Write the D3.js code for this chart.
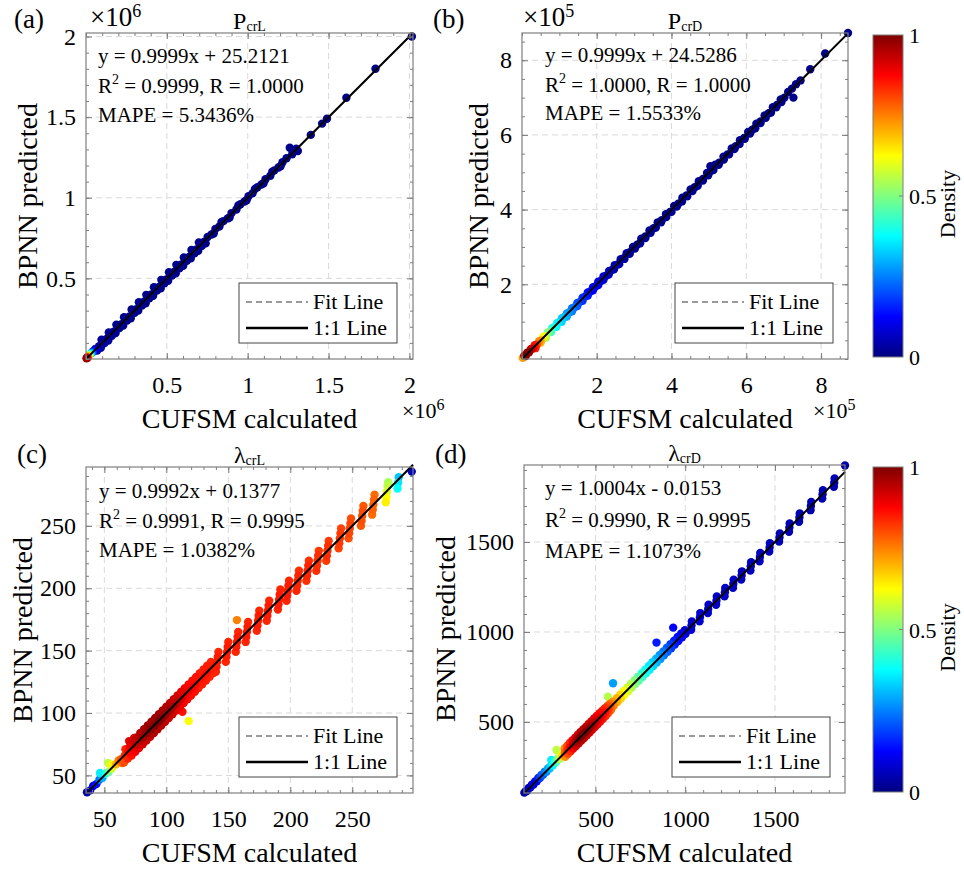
<!DOCTYPE html>
<html>
<head>
<meta charset="utf-8">
<script src="https://cdn.jsdelivr.net/npm/d3@7"></script>
<style>
  body { margin: 0; background: #fff; }
  svg, svg text { font-family: "Liberation Serif", "DejaVu Serif", "Noto Serif", serif; }
</style>
</head>
<body>
<div id="chart"></div>
<script>
// Dados: [CUFSM calculado, BPNN previsto, densidade]
// (a) P_crL, em x10^6
const pcrL = [
  [0.003,0.004,0.97],[0.006,0.009,0.9],[0.010,0.007,0.85],[0.013,0.016,0.72],[0.018,0.020,0.6],
  [0.022,0.026,0.48],[0.027,0.029,0.38],[0.032,0.036,0.28],[0.038,0.040,0.2],[0.044,0.047,0.14],
  [0.050,0.052,0.1],[0.058,0.062,0.06],[0.081,0.079,0.04],[0.104,0.108,0.03],[0.127,0.124,0.02],
  [0.149,0.153,0.02],[0.172,0.170,0.02],[0.196,0.201,0.01],[0.219,0.216,0.01],[0.243,0.247,0.01],
  [0.266,0.262,0.01],[0.290,0.295,0.01],[0.312,0.309,0.01],[0.335,0.340,0.01],[0.358,0.355,0.01],
  [0.381,0.386,0.01],[0.404,0.401,0.01],[0.428,0.433,0.01],[0.451,0.447,0.01],[0.474,0.479,0.01],
  [0.497,0.494,0.01],[0.521,0.526,0.01],[0.544,0.540,0.01],[0.567,0.572,0.01],[0.590,0.587,0.01],
  [0.613,0.618,0.01],[0.637,0.633,0.01],[0.660,0.664,0.01],[0.683,0.680,0.01],[0.706,0.711,0.01],
  [0.729,0.726,0.01],[0.752,0.757,0.01],[0.776,0.772,0.01],[0.800,0.806,0.01],[0.825,0.822,0.01],
  [0.850,0.855,0.01],[0.876,0.872,0.01],[0.900,0.905,0.01],[0.930,0.927,0.01],[0.955,0.960,0.01],
  [0.980,0.977,0.01],[1.005,1.010,0.01],[1.030,1.028,0.01],[1.060,1.065,0.01],[1.085,1.082,0.01],
  [1.110,1.115,0.01],[1.140,1.137,0.01],[1.165,1.170,0.01],[1.190,1.188,0.01],[1.215,1.220,0.01],
  [1.240,1.245,0.01],[1.260,1.310,0.01],[1.275,1.270,0.01],[1.300,1.305,0.01],[1.310,1.290,0.01],
  [1.390,1.390,0.01],[1.460,1.460,0.01],[1.490,1.490,0.01],[1.610,1.620,0.01],[1.790,1.800,0.01],
  [2.015,2.000,0.01],
  // segunda e terceira fileiras da faixa densa
  [0.069,0.053,0.05],[0.092,0.070,0.04],[0.115,0.099,0.03],[0.138,0.115,0.02],[0.160,0.144,0.02],
  [0.183,0.161,0.02],[0.207,0.192,0.01],[0.230,0.207,0.01],[0.254,0.238,0.01],[0.277,0.253,0.01],
  [0.301,0.286,0.01],[0.323,0.300,0.01],[0.346,0.331,0.01],[0.369,0.346,0.01],[0.392,0.377,0.01],
  [0.415,0.392,0.01],[0.439,0.424,0.01],[0.462,0.438,0.01],[0.485,0.470,0.01],[0.508,0.485,0.01],
  [0.532,0.517,0.01],[0.555,0.531,0.01],[0.578,0.563,0.01],[0.601,0.578,0.01],[0.624,0.609,0.01],
  [0.648,0.624,0.01],[0.671,0.655,0.01],[0.694,0.671,0.01],[0.717,0.702,0.01],[0.740,0.717,0.01],
  [0.096,0.120,0.03],[0.141,0.165,0.02],[0.188,0.213,0.01],[0.235,0.259,0.01],[0.282,0.307,0.01],
  [0.327,0.352,0.01],[0.373,0.398,0.01],[0.420,0.445,0.01],[0.466,0.491,0.01],[0.513,0.538,0.01],
  [0.559,0.584,0.01],[0.605,0.630,0.01],[0.652,0.676,0.01],[0.698,0.723,0.01],[0.790,0.778,0.01],
  [0.838,0.850,0.01],[0.888,0.878,0.01],[0.942,0.952,0.01],[0.993,0.985,0.01],[1.045,1.055,0.01],
  [1.098,1.090,0.01],[1.152,1.162,0.01],[1.203,1.196,0.01]
];
// (b) P_crD, em x10^5
const pcrD = [
  [0.02,0.03,0.72],[0.06,0.09,0.96],[0.10,0.08,1.0],[0.14,0.17,0.99],[0.19,0.18,0.97],[0.24,0.27,0.93],
  [0.29,0.28,0.9],[0.34,0.37,0.86],[0.40,0.39,0.8],[0.46,0.48,0.74],[0.52,0.51,0.68],[0.57,0.59,0.62],
  [0.63,0.62,0.56],[0.69,0.71,0.5],[0.75,0.74,0.45],[0.81,0.83,0.41],[0.87,0.86,0.38],[0.94,0.96,0.36],
  [1.00,0.99,0.34],[1.07,1.09,0.32],[1.13,1.12,0.3],[1.20,1.22,0.28],[1.27,1.25,0.26],[1.34,1.36,0.24],
  [1.41,1.39,0.22],[1.48,1.50,0.2],[1.55,1.53,0.18],[1.62,1.64,0.16],[1.69,1.67,0.15],[1.76,1.78,0.13],
  [1.83,1.81,0.12],[1.90,1.92,0.11],[1.97,1.95,0.1],[2.04,2.07,0.09],[2.11,2.09,0.08],[2.18,2.21,0.07],
  [2.25,2.23,0.06],[2.33,2.36,0.055],[2.40,2.38,0.05],[2.48,2.51,0.045],[2.56,2.53,0.04],[2.64,2.67,0.035],
  [2.72,2.70,0.03],[2.80,2.83,0.025],[2.88,2.86,0.025],[2.97,3.00,0.02],[3.08,3.06,0.02],[3.19,3.22,0.02],
  [3.30,3.28,0.02],[3.41,3.44,0.02],[3.52,3.50,0.02],[3.63,3.66,0.015],[3.74,3.72,0.015],[3.85,3.88,0.015],
  [3.96,3.94,0.015],[4.07,4.10,0.015],[4.18,4.16,0.015],[4.29,4.32,0.015],[4.40,4.38,0.015],[4.51,4.54,0.015],
  [4.62,4.60,0.012],[4.73,4.76,0.012],[4.84,4.82,0.012],[4.95,4.98,0.012],[5.04,5.16,0.01],[5.06,5.04,0.012],
  [5.17,5.20,0.012],[5.28,5.26,0.01],[5.39,5.42,0.01],[5.50,5.48,0.01],[5.61,5.64,0.01],[5.72,5.70,0.01],
  [5.83,5.86,0.01],[5.94,5.92,0.01],[6.05,6.08,0.01],[6.16,6.14,0.01],[6.27,6.30,0.01],[6.38,6.36,0.01],
  [6.49,6.52,0.01],[6.60,6.58,0.01],[6.71,6.74,0.01],[6.82,6.80,0.01],[6.92,6.95,0.01],[7.02,7.00,0.01],
  [7.12,7.15,0.01],[7.22,7.24,0.01],[7.26,7.00,0.01],[7.33,7.36,0.01],[7.45,7.46,0.01],[7.71,7.76,0.01],
  [8.11,8.18,0.01],[8.72,8.73,0.01],
  // segunda fileira
  [0.36,0.29,0.85],[0.50,0.44,0.7],[0.64,0.57,0.54],[0.78,0.72,0.43],[0.92,0.86,0.37],[1.06,1.00,0.33],
  [1.20,1.14,0.29],[1.34,1.28,0.25],[1.48,1.42,0.21],[1.62,1.56,0.17],[1.76,1.70,0.14],[1.90,1.84,0.11],
  [2.04,1.98,0.09],[2.18,2.12,0.07],[2.32,2.26,0.055],[2.46,2.40,0.045],[2.60,2.54,0.04],[2.74,2.68,0.03],
  [2.88,2.82,0.025],[3.02,2.96,0.02],[3.16,3.10,0.02],[3.30,3.24,0.02],[3.44,3.38,0.02],[3.58,3.52,0.015],
  [3.72,3.66,0.015],[3.86,3.80,0.015],[4.00,3.94,0.015],[4.14,4.08,0.015],[4.28,4.22,0.015],[4.42,4.36,0.015],
  [4.56,4.50,0.012],[4.70,4.64,0.012],[4.84,4.78,0.012],[4.98,4.92,0.012],[5.12,5.06,0.01],[5.26,5.20,0.01],
  [5.40,5.34,0.01],[5.54,5.48,0.01],[5.68,5.62,0.01],[5.82,5.76,0.01],[5.96,5.90,0.01],[6.10,6.04,0.01],
  [6.24,6.18,0.01],[6.38,6.32,0.01],[6.52,6.46,0.01],[6.66,6.60,0.01],[6.80,6.74,0.01],[6.94,6.88,0.01]
];
// (c) lambda_crL
const lamL = [
  [36.0,36.5,0.05],[38.5,38.0,0.07],[41.0,41.5,0.1],[43.5,43.0,0.14],[46.0,46.5,0.24],[46.5,52.0,0.36],
  [48.5,48.0,0.3],[51.0,51.5,0.4],[53.0,60.0,0.56],[53.5,53.0,0.48],[55.0,58.5,0.6],[56.0,55.5,0.58],
  [57.5,58.5,0.64],[59.5,59.0,0.7],[61.5,62.0,0.75],[63.5,63.0,0.79],[64.5,60.0,0.78],
  [66.0,60.5,0.8],[66.5,66.0,0.83],[67.0,71.0,0.84],
  [69.0,63.5,0.84],[69.5,69.0,0.87],[70.0,77.5,0.9],[70.5,73.0,0.88],
  [72.0,66.0,0.86],[72.5,72.0,0.9],[73.0,78.0,0.92],[74.0,80.0,0.9],
  [75.0,69.0,0.88],[75.5,75.0,0.93],[76.0,80.5,0.94],
  [78.0,72.0,0.9],[78.5,78.0,0.95],[79.0,84.0,0.95],
  [81.0,75.0,0.92],[81.5,81.0,0.97],[82.0,87.0,0.96],
  [84.0,78.0,0.93],[84.5,84.0,0.98],[85.0,90.0,0.97],
  [87.0,81.0,0.94],[87.5,87.0,0.99],[88.0,93.0,0.97],
  [90.0,84.0,0.95],[90.5,90.0,1.0],[91.0,96.0,0.97],
  [93.0,87.0,0.95],[93.5,93.0,1.0],[94.0,99.0,0.97],
  [96.0,90.0,0.95],[96.5,96.0,0.99],[97.0,102.0,0.96],
  [99.0,93.0,0.94],[99.5,99.0,0.98],[100.0,105.0,0.95],
  [102.0,96.0,0.93],[102.5,102.0,0.97],[103.0,108.0,0.94],
  [105.0,99.0,0.92],[105.5,105.0,0.96],[106.0,111.0,0.93],
  [108.0,102.0,0.9],[108.5,108.0,0.94],[109.0,114.0,0.91],
  [111.0,105.0,0.89],[111.5,111.0,0.92],[112.0,117.0,0.9],[113.0,101.0,0.86],
  [114.0,108.0,0.88],[114.5,114.0,0.9],[115.0,120.0,0.88],
  [117.0,111.0,0.87],[117.5,117.0,0.89],[118.0,123.0,0.87],[118.0,93.5,0.62],
  [120.0,114.0,0.86],[120.5,120.0,0.88],[121.0,126.0,0.86],
  [123.0,117.0,0.86],[123.5,123.0,0.87],[124.0,129.0,0.86],
  [126.0,120.0,0.85],[126.5,126.0,0.86],[127.0,132.0,0.85],
  [129.0,123.0,0.85],[129.5,129.0,0.86],[130.0,135.0,0.85],
  [132.0,126.0,0.85],[132.5,132.0,0.86],[133.0,138.0,0.85],
  [135.0,129.0,0.84],[135.5,135.0,0.85],[136.0,141.0,0.84],
  [138.0,132.0,0.84],[138.5,138.0,0.85],
  // faixas verticais
  [140.0,133.0,0.84],[140.5,137.0,0.85],[141.0,141.0,0.85],[141.5,145.0,0.85],[142.0,149.0,0.84],
  [148.0,141.0,0.84],[148.5,145.0,0.85],[149.0,149.0,0.85],[149.5,153.0,0.85],[150.0,157.0,0.84],
  [156.0,149.0,0.84],[156.5,153.0,0.85],[157.0,157.0,0.85],[157.5,161.0,0.85],[158.0,165.0,0.84],
  [157.0,174.5,0.75],
  [164.0,157.0,0.84],[164.5,161.0,0.85],[165.0,165.0,0.85],[165.5,169.0,0.85],[166.0,173.0,0.84],
  [173.0,166.0,0.84],[173.5,170.0,0.85],[174.0,174.0,0.85],[174.5,178.0,0.85],[175.0,182.0,0.84],
  [181.0,174.0,0.84],[181.5,178.0,0.85],[182.0,182.0,0.85],[182.5,186.0,0.85],[183.0,190.0,0.84],
  [190.0,183.0,0.84],[190.5,187.0,0.85],[191.0,191.0,0.85],[191.5,195.0,0.85],[192.0,199.0,0.84],
  [197.0,190.0,0.84],[197.5,194.0,0.85],[198.0,198.0,0.85],[198.5,202.0,0.85],[199.0,206.0,0.84],
  [205.0,198.0,0.84],[205.5,202.0,0.84],[206.0,206.0,0.84],[206.5,210.0,0.84],[207.0,214.0,0.83],
  [213.0,206.0,0.83],[213.5,210.0,0.84],[214.0,214.0,0.84],[214.5,218.0,0.84],[215.0,222.0,0.83],
  [221.0,214.0,0.83],[221.5,218.0,0.83],[222.0,222.0,0.83],[222.5,226.0,0.83],[223.0,230.0,0.82],
  [229.0,222.0,0.82],[229.5,226.0,0.83],[230.0,230.0,0.83],[230.5,234.0,0.83],[231.0,238.0,0.82],
  [239.0,232.0,0.81],[239.5,236.0,0.82],[240.0,240.0,0.82],[240.5,244.0,0.82],[241.0,248.0,0.81],
  [247.0,240.0,0.8],[247.5,244.0,0.81],[248.0,248.0,0.81],[248.5,252.0,0.81],[249.0,256.0,0.8],
  [257.0,250.0,0.79],[257.5,254.0,0.8],[258.0,258.0,0.8],[258.5,262.0,0.8],[259.0,266.0,0.79],
  [266.0,259.0,0.77],[266.5,263.0,0.78],[267.0,267.0,0.78],[267.5,271.0,0.78],[268.0,275.0,0.77],
  [277.0,269.0,0.64],[277.5,273.0,0.62],[278.0,277.5,0.59],[278.5,282.0,0.56],[279.0,285.0,0.54],
  [286.5,280.0,0.38],[287.0,284.5,0.35],[287.5,289.0,0.32],[298.0,293.5,0.06]
];
// (d) lambda_crD
const lamD = [
  [104,107,0.03],[112,115,0.04],[120,118,0.05],[128,133,0.06],[137,135,0.07],[146,151,0.08],[155,152,0.09],
  [164,169,0.1],[173,170,0.12],[182,188,0.15],[191,188,0.18],[200,206,0.2],[209,206,0.22],[218,224,0.24],
  [227,223,0.26],[236,242,0.28],[245,241,0.31],[254,289,0.36],[254,260,0.34],[263,259,0.37],[272,278,0.4],
  [281,277,0.44],[290,296,0.48],[283,344,0.56],[299,294,0.55],[308,315,0.6],[317,311,0.66],
  [328,352,0.74],[330,330,0.78],[332,306,0.74],[343,368,0.8],[345,345,0.84],[347,322,0.8],
  [358,384,0.84],[360,360,0.88],[362,337,0.84],[373,399,0.88],[375,375,0.93],[377,352,0.88],
  [388,414,0.91],[390,390,0.96],[392,366,0.91],[403,430,0.93],[405,405,0.99],[407,381,0.94],
  [418,445,0.94],[420,420,1.0],[422,396,0.94],[433,460,0.94],[435,435,1.0],[437,411,0.94],
  [448,474,0.93],[450,450,0.99],[452,426,0.93],[463,490,0.92],[465,465,0.98],[467,441,0.92],
  [478,504,0.91],[480,480,0.96],[482,457,0.91],[493,520,0.9],[495,495,0.94],[497,471,0.9],
  [508,534,0.88],[510,510,0.92],[512,487,0.88],[523,548,0.87],[525,525,0.9],[527,502,0.87],
  [538,562,0.85],[540,540,0.88],[542,518,0.85],[553,576,0.83],[555,555,0.86],[557,533,0.83],
  [568,590,0.8],[570,570,0.83],[572,549,0.8],[583,603,0.76],[585,585,0.79],[587,566,0.77],
  [569,640,0.55],[598,715,0.28],
  [598,612,0.73],[602,590,0.74],[618,632,0.7],[622,610,0.7],[638,652,0.66],[642,630,0.66],
  [658,672,0.62],[662,650,0.62],[678,692,0.58],[682,670,0.58],[698,712,0.54],[702,690,0.54],
  [718,732,0.5],[722,710,0.5],[738,752,0.46],[742,730,0.46],[758,772,0.42],[762,750,0.42],
  [778,792,0.39],[782,770,0.39],[798,812,0.36],[802,790,0.36],[818,832,0.33],[822,810,0.33],
  [838,852,0.3],[842,830,0.3],[840,941,0.15],[858,872,0.27],[862,850,0.27],[878,892,0.24],[882,870,0.24],
  [898,912,0.21],[902,890,0.21],[918,932,0.18],[922,910,0.18],[933,1024,0.12],[938,952,0.15],[942,930,0.15],
  [958,972,0.13],[962,950,0.13],[978,992,0.11],[982,970,0.11],[998,1010,0.09],[1002,990,0.09],
  [1033,1012,0.08],[1035,1036,0.08],[1037,1059,0.08],
  [1080,1059,0.08],[1082,1082,0.08],[1084,1105,0.08],
  [1126,1105,0.07],[1128,1128,0.07],[1130,1151,0.07],
  [1172,1151,0.07],[1174,1174,0.07],[1176,1197,0.07],
  [1219,1198,0.07],[1221,1221,0.07],[1223,1244,0.07],
  [1266,1245,0.07],[1268,1268,0.07],[1270,1291,0.07],
  [1312,1291,0.06],[1314,1314,0.06],[1316,1337,0.06],
  [1363,1342,0.06],[1365,1365,0.06],[1367,1388,0.06],
  [1414,1393,0.06],[1416,1416,0.06],[1418,1439,0.06],
  [1468,1447,0.06],[1470,1470,0.06],[1472,1493,0.06],
  [1523,1502,0.05],[1525,1525,0.05],[1527,1548,0.05],
  [1578,1557,0.05],[1580,1580,0.05],[1582,1603,0.05],
  [1634,1613,0.05],[1636,1636,0.05],[1638,1659,0.05],
  [1698,1677,0.05],[1700,1700,0.05],[1702,1723,0.05],
  [1763,1742,0.05],[1765,1765,0.05],[1767,1788,0.05],
  [1828,1807,0.05],[1830,1830,0.05],[1832,1853,0.05],
  [1890,1925,0.04]
];

// Marcas dos eixos
const ticksPcrL = [0.5, 1, 1.5, 2];
const ticksPcrD = [2, 4, 6, 8];
const ticksLamL = [50, 100, 150, 200, 250];
const ticksLamD = [500, 1000, 1500];
const cbTicks = [0, 0.5, 1];

// Resultados da regressão
const fitPcrL = { slope: 0.9999, icpt: 25.2121, eq: "y = 0.9999x + 25.2121", r2: "0.9999", r: "1.0000", mape: "5.3436%" };
const fitPcrD = { slope: 0.9999, icpt: 24.5286, eq: "y = 0.9999x + 24.5286", r2: "1.0000", r: "1.0000", mape: "1.5533%" };
const fitLamL = { slope: 0.9992, icpt: 0.1377, eq: "y = 0.9992x + 0.1377", r2: "0.9991", r: "0.9995", mape: "1.0382%" };
const fitLamD = { slope: 1.0004, icpt: -0.0153, eq: "y = 1.0004x - 0.0153", r2: "0.9990", r: "0.9995", mape: "1.1073%" };

const W = 964, H = 869;
const AX = "#7f7f7f";
const FONT = "'Liberation Serif', 'DejaVu Serif', serif";

const svg = d3.select("#chart").append("svg")
    .attr("width", W).attr("height", H)
    .attr("font-family", FONT)
    .style("background", "#fff");

// Mapa de cores jet (MATLAB)
function jet(t) {
    const c = v => Math.max(0, Math.min(1, v)) * 255;
    return d3.rgb(c(1.5 - Math.abs(4 * t - 3)), c(1.5 - Math.abs(4 * t - 2)), c(1.5 - Math.abs(4 * t - 1))).formatHex();
}

const panels = [
    { tag: "(a)", pts: pcrL, ticks: ticksPcrL, minor: 0.1, scale: 1e6, exp: "6", fit: fitPcrL,
      xDom: [0, 2.022], yDom: [0, 2.022], l: 86, t: 33, r: 413, b: 359,
      title: ["P", "crL"], tagPos: [14, 28], eqX: 98, eqY: [63, 93, 122], leg: [239, 283],
      ylabX: 37, expTop: [90, 26], expBot: [402, 418] },
    { tag: "(b)", pts: pcrD, ticks: ticksPcrD, minor: 0.5, scale: 1e5, exp: "5", fit: fitPcrD,
      xDom: [0, 8.72], yDom: [0, 8.73], l: 522, t: 33, r: 848, b: 359,
      title: ["P", "crD"], tagPos: [433, 28], eqX: 545, eqY: [62, 92, 120], leg: [675, 283],
      ylabX: 488, expTop: [523, 26], expBot: [813, 418] },
    { tag: "(c)", pts: lamL, ticks: ticksLamL, minor: 10, scale: 1, fit: fitLamL,
      xDom: [35.2, 299], yDom: [35.9, 297.2], l: 86, t: 467, r: 413, b: 793,
      title: ["\u03bb", "crL"], tagPos: [17, 463], eqX: 99, eqY: [498, 528, 557], leg: [239, 717],
      ylabX: 32 },
    { tag: "(d)", pts: lamD, ticks: ticksLamD, minor: 100, scale: 1, fit: fitLamD,
      xDom: [102, 1890], yDom: [105, 1928], l: 524, t: 465, r: 845, b: 793,
      title: ["\u03bb", "crD"], tagPos: [435, 463], eqX: 545, eqY: [495, 527, 558], leg: [672, 717],
      ylabX: 455 }
];

function styleAxis(sel) {
    sel.attr("font-family", FONT).attr("font-size", null);
    sel.select(".domain").remove();
    sel.selectAll(".tick line").attr("stroke", AX).attr("stroke-width", 1);
    sel.selectAll(".tick text").style("font-size", "24px").attr("fill", "#000");
}

panels.forEach(p => {
    const g = svg.append("g");
    const x = d3.scaleLinear().domain(p.xDom).range([p.l, p.r]);
    const y = d3.scaleLinear().domain(p.yDom).range([p.b, p.t]);
    const fmt = d3.format("~g");

    // Grade tracejada
    g.append("g").selectAll("line").data(p.ticks).join("line")
        .attr("x1", d => x(d)).attr("x2", d => x(d)).attr("y1", p.t).attr("y2", p.b)
        .attr("stroke", "#dadada").attr("stroke-dasharray", "6,4");
    g.append("g").selectAll("line").data(p.ticks).join("line")
        .attr("y1", d => y(d)).attr("y2", d => y(d)).attr("x1", p.l).attr("x2", p.r)
        .attr("stroke", "#dadada").attr("stroke-dasharray", "6,4");

    // Pontos coloridos pela densidade (mais densos por cima)
    const pts = p.pts.slice().sort((a, b) => a[2] - b[2]);
    g.append("g").selectAll("circle").data(pts).join("circle")
        .attr("cx", d => x(d[0])).attr("cy", d => y(d[1]))
        .attr("r", 4.2).attr("fill", d => jet(d[2]));

    // Linha de ajuste e linha 1:1
    const x0 = p.xDom[0], x1 = p.xDom[1];
    const fy = v => p.fit.slope * v + p.fit.icpt / p.scale;
    g.append("line")
        .attr("x1", x(x0)).attr("y1", y(fy(x0))).attr("x2", x(x1)).attr("y2", y(fy(x1)))
        .attr("stroke", "#999").attr("stroke-width", 1.5).attr("stroke-dasharray", "6,4");
    g.append("line")
        .attr("x1", x(x0)).attr("y1", y(x0)).attr("x2", x(x1)).attr("y2", y(x1))
        .attr("stroke", "#000").attr("stroke-width", 2);

    // Eixos (marcas para dentro em todos os lados)
    const minor = d3.range(Math.ceil(p.xDom[0] / p.minor) * p.minor, p.xDom[1], p.minor);
    const minorY = d3.range(Math.ceil(p.yDom[0] / p.minor) * p.minor, p.yDom[1], p.minor);
    g.append("g").attr("transform", `translate(0,${p.b})`)
        .call(d3.axisBottom(x).tickValues(p.ticks).tickSize(-6).tickPadding(17).tickFormat(fmt)).call(styleAxis);
    g.append("g").attr("transform", `translate(0,${p.b})`)
        .call(d3.axisBottom(x).tickValues(minor).tickSize(-3).tickFormat("")).call(styleAxis);
    g.append("g").attr("transform", `translate(0,${p.t})`)
        .call(d3.axisTop(x).tickValues(p.ticks).tickSize(-6).tickFormat("")).call(styleAxis);
    g.append("g").attr("transform", `translate(0,${p.t})`)
        .call(d3.axisTop(x).tickValues(minor).tickSize(-3).tickFormat("")).call(styleAxis);
    g.append("g").attr("transform", `translate(${p.l},0)`)
        .call(d3.axisLeft(y).tickValues(p.ticks).tickSize(-6).tickPadding(10).tickFormat(fmt)).call(styleAxis);
    g.append("g").attr("transform", `translate(${p.l},0)`)
        .call(d3.axisLeft(y).tickValues(minorY).tickSize(-3).tickFormat("")).call(styleAxis);
    g.append("g").attr("transform", `translate(${p.r},0)`)
        .call(d3.axisRight(y).tickValues(p.ticks).tickSize(-6).tickFormat("")).call(styleAxis);
    g.append("g").attr("transform", `translate(${p.r},0)`)
        .call(d3.axisRight(y).tickValues(minorY).tickSize(-3).tickFormat("")).call(styleAxis);

    g.append("rect").attr("x", p.l).attr("y", p.t).attr("width", p.r - p.l).attr("height", p.b - p.t)
        .attr("fill", "none").attr("stroke", AX).attr("stroke-width", 1.2);

    // Expoentes x10^n
    if (p.exp) {
        const e1 = g.append("text").attr("x", p.expTop[0]).attr("y", p.expTop[1]).style("font-size", "27px");
        e1.append("tspan").text("\u00d710");
        e1.append("tspan").attr("dy", -9).style("font-size", "18px").text(p.exp);
        const e2 = g.append("text").attr("x", p.expBot[0]).attr("y", p.expBot[1]).style("font-size", "22px");
        e2.append("tspan").text("\u00d710");
        e2.append("tspan").attr("dy", -8).style("font-size", "16px").text(p.exp);
    }

    // Rótulos dos eixos
    g.append("text").attr("x", (p.l + p.r) / 2).attr("y", p.b + 69)
        .attr("text-anchor", "middle").style("font-size", "28px").text("CUFSM calculated");
    g.append("text").attr("transform", `translate(${p.ylabX},${(p.t + p.b) / 2}) rotate(-90)`)
        .attr("text-anchor", "middle").style("font-size", "28px").text("BPNN predicted");

    // Título com subscrito
    const tt = g.append("text").attr("x", (p.l + p.r) / 2).attr("y", p.t - 4)
        .attr("text-anchor", "middle").style("font-size", "24px");
    tt.append("tspan").text(p.title[0]);
    tt.append("tspan").attr("dy", 2).style("font-size", "14px").text(p.title[1]);

    // Letra do painel
    g.append("text").attr("x", p.tagPos[0]).attr("y", p.tagPos[1]).style("font-size", "27px").text(p.tag);

    // Equação e métricas
    g.append("text").attr("x", p.eqX).attr("y", p.eqY[0]).style("font-size", "21px").text(p.fit.eq);
    const r2 = g.append("text").attr("x", p.eqX).attr("y", p.eqY[1]).style("font-size", "21px");
    r2.append("tspan").text("R");
    r2.append("tspan").attr("dy", -9).style("font-size", "14px").text("2");
    r2.append("tspan").attr("dy", 9).text(` = ${p.fit.r2}, R = ${p.fit.r}`);
    g.append("text").attr("x", p.eqX).attr("y", p.eqY[2]).style("font-size", "21px").text(`MAPE = ${p.fit.mape}`);

    // Legenda
    const [lx, ly] = p.leg;
    g.append("rect").attr("x", lx).attr("y", ly).attr("width", 158).attr("height", 60)
        .attr("fill", "#fff").attr("stroke", "#444").attr("stroke-width", 1);
    g.append("line").attr("x1", lx + 7).attr("x2", lx + 69).attr("y1", ly + 19).attr("y2", ly + 19)
        .attr("stroke", "#999").attr("stroke-width", 2).attr("stroke-dasharray", "6,4");
    g.append("line").attr("x1", lx + 7).attr("x2", lx + 69).attr("y1", ly + 45).attr("y2", ly + 45)
        .attr("stroke", "#000").attr("stroke-width", 2.5);
    g.append("text").attr("x", lx + 74).attr("y", ly + 26).style("font-size", "22px").text("Fit Line");
    g.append("text").attr("x", lx + 74).attr("y", ly + 52).style("font-size", "22px").text("1:1 Line");
});

// Barras de cor
const defs = svg.append("defs");
const grad = defs.append("linearGradient").attr("id", "jetGrad")
    .attr("x1", 0).attr("y1", 1).attr("x2", 0).attr("y2", 0);
grad.selectAll("stop").data(d3.range(0, 1.0001, 0.0625)).join("stop")
    .attr("offset", d => d).attr("stop-color", d => jet(d));

[[35, 357], [467, 792]].forEach(([top, bot]) => {
    const cb = svg.append("g");
    const s = d3.scaleLinear().domain([0, 1]).range([bot, top]);
    cb.append("rect").attr("x", 873).attr("y", top).attr("width", 30).attr("height", bot - top)
        .attr("fill", "url(#jetGrad)").attr("stroke", AX).attr("stroke-width", 1);
    cb.selectAll("line.tk").data([0.5]).join("line")
        .attr("x1", 899).attr("x2", 903).attr("y1", d => s(d)).attr("y2", d => s(d))
        .attr("stroke", AX);
    cb.selectAll("text.tl").data(cbTicks).join("text")
        .attr("x", 909).attr("y", d => s(d) + 8).style("font-size", "22px").text(d => d3.format("~g")(d));
    cb.append("text").attr("transform", `translate(955,${(top + bot) / 2 + 8}) rotate(-90)`)
        .attr("text-anchor", "middle").style("font-size", "22px").text("Density");
});
</script>
</body>
</html>
